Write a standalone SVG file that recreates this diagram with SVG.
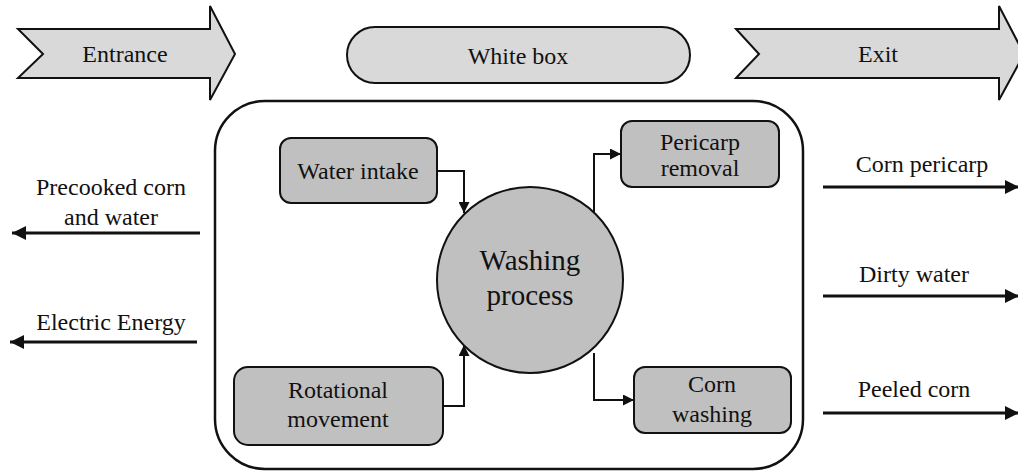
<svg xmlns="http://www.w3.org/2000/svg" width="1018" height="473" viewBox="0 0 1018 473">
<defs>
<style>
text{font-size:24px;fill:#111;text-anchor:middle}
.big{font-size:29px}
.light{fill:#d9d9d9;stroke:#111;stroke-width:2}
.box{fill:#c0c0c0;stroke:#111;stroke-width:2}
.conn{fill:none;stroke:#111;stroke-width:2}
.io{fill:none;stroke:#111;stroke-width:3}
</style>
<marker id="ah" viewBox="0 0 10 10" refX="10" refY="5" markerWidth="11" markerHeight="11" markerUnits="userSpaceOnUse" orient="auto"><path d="M0,0L10,5L0,10z" fill="#111"/></marker>
<marker id="ahb" viewBox="0 0 10 10" refX="10" refY="5" markerWidth="14" markerHeight="14" markerUnits="userSpaceOnUse" orient="auto"><path d="M0,0L10,5L0,10z" fill="#111"/></marker>
</defs>
<g font-family="Times New Roman, Liberation Serif, DejaVu Serif, serif">
<g id="entrance">
<path class="light" d="M18,29H210V6L235,54L210,100V78H18L43,54Z"/>
<text x="125" y="62">Entrance</text>
</g>
<g id="whitebox">
<rect class="light" x="347" y="27" width="343" height="56" rx="28"/>
<text x="518" y="64">White box</text>
</g>
<g id="exit">
<path class="light" d="M736,29H999V6L1024,54L999,100V78H736L759,54Z"/>
<text x="878" y="62">Exit</text>
</g>
<g id="container">
<rect x="215" y="101" width="588" height="368" rx="50" fill="none" stroke="#111" stroke-width="2.5"/>
</g>
<g id="water-intake">
<rect class="box" x="280" y="138" width="157" height="65" rx="11"/>
<text x="358" y="179">Water intake</text>
</g>
<g id="washing">
<circle class="box" cx="530" cy="280" r="93"/>
<text class="big" x="530" y="270">Washing</text>
<text class="big" x="530" y="305">process</text>
</g>
<g id="rotational">
<rect class="box" x="234" y="367" width="209" height="78" rx="14"/>
<text x="338" y="398">Rotational</text>
<text x="338" y="427">movement</text>
</g>
<g id="pericarp">
<rect class="box" x="621" y="121" width="158" height="66" rx="11"/>
<text x="700" y="150">Pericarp</text>
<text x="700" y="176">removal</text>
</g>
<g id="corn-washing">
<rect class="box" x="634" y="367" width="157" height="66" rx="11"/>
<text x="712" y="392">Corn</text>
<text x="712" y="422">washing</text>
</g>
<g id="connectors">
<path class="conn" d="M437,171H464V213" marker-end="url(#ah)"/>
<path class="conn" d="M443,406H464V345" marker-end="url(#ah)"/>
<path class="conn" d="M594,213V154H621" marker-end="url(#ah)"/>
<path class="conn" d="M594,353V400H634" marker-end="url(#ah)"/>
<path class="io" d="M200,233H12" marker-end="url(#ahb)"/>
<path class="io" d="M197,342H10" marker-end="url(#ahb)"/>
<path class="io" d="M823,187H1019" marker-end="url(#ahb)"/>
<path class="io" d="M823,296H1019" marker-end="url(#ahb)"/>
<path class="io" d="M823,413H1019" marker-end="url(#ahb)"/>
</g>
<g id="labels">
<text x="111" y="195">Precooked corn</text>
<text x="111" y="225">and water</text>
<text x="111" y="330">Electric Energy</text>
<text x="922" y="172">Corn pericarp</text>
<text x="914" y="282">Dirty water</text>
<text x="914" y="397">Peeled corn</text>
</g>
</g>
</svg>
